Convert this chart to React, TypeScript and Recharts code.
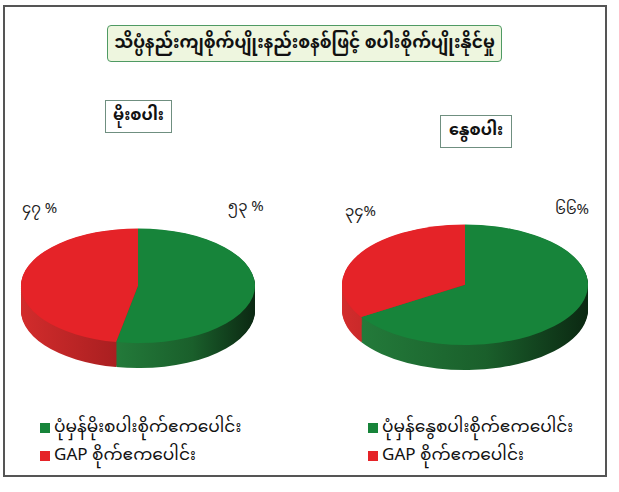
import React from 'react';
import { Cell, Pie, PieChart } from 'recharts';

const TITLE = 'သိပ္ပံနည်းကျစိုက်ပျိုးနည်းစနစ်ဖြင့် စပါးစိုက်ပျိုးနိုင်မှု';
const SEASONS = ['မိုးစပါး', 'နွေစပါး'];
const NORMAL_NAMES = ['ပုံမှန်မိုးစပါးစိုက်ဧကပေါင်း', 'ပုံမှန်နွေစပါးစိုက်ဧကပေါင်း'];
const GAP_NAME = 'GAP စိုက်ဧကပေါင်း';
const NORMAL_PCT = [53, 66];
const GAP_PCT = [47, 34];

const TOP_COLORS = ['#17843a', '#e52328'];
const SIDE_COLORS = ['url(#sideGreen)', 'url(#sideRed)'];
const MYANMAR_FONT = '"Noto Sans Myanmar", "Padauk", "Myanmar Text", "Liberation Serif", serif';

const toMyanmarDigits = (n: number) => String(n).replace(/[0-9]/g, (d) => String.fromCharCode(0x1040 + Number(d)));

interface Pie3DProps {
    normal: number;
    gap: number;
    left: number;
    top: number;
    radius: number;
}

function Pie3D({ normal, gap, left, top, radius }: Pie3DProps) {
    const data = [
        { name: 'normal', value: normal },
        { name: 'gap', value: gap },
    ];
    const layers = [];
    for (let off = 51; off > 0; off -= 2) layers.push(off);
    const cy = radius + 3;
    return (
        <div style={{ position: 'absolute', left, top, width: 260, height: 300, transform: 'scaleY(0.49)', transformOrigin: 'top left' }}>
            <PieChart width={260} height={300} margin={{ top: 0, right: 0, bottom: 0, left: 0 }}>
                {layers.map((off) => (
                    <Pie
                        key={off}
                        data={data}
                        dataKey="value"
                        cx={130}
                        cy={cy + off}
                        outerRadius={radius}
                        startAngle={90}
                        endAngle={-270}
                        stroke="none"
                        isAnimationActive={false}
                    >
                        {data.map((d, i) => (
                            <Cell key={d.name} fill={SIDE_COLORS[i]} />
                        ))}
                    </Pie>
                ))}
                <Pie
                    data={data}
                    dataKey="value"
                    cx={130}
                    cy={cy}
                    outerRadius={radius}
                    startAngle={90}
                    endAngle={-270}
                    stroke="none"
                    isAnimationActive={false}
                >
                    {data.map((d, i) => (
                        <Cell key={d.name} fill={TOP_COLORS[i]} />
                    ))}
                </Pie>
            </PieChart>
        </div>
    );
}

function LegendBlock({ x, y, normalName }: { x: number; y: number; normalName: string }) {
    const items = [
        { name: normalName, color: TOP_COLORS[0] },
        { name: GAP_NAME, color: TOP_COLORS[1] },
    ];
    return (
        <div style={{ position: 'absolute', left: x, top: y, fontFamily: MYANMAR_FONT, fontSize: 17, lineHeight: '20px', color: '#111' }}>
            {items.map((it) => (
                <div key={it.name} style={{ display: 'flex', alignItems: 'center', height: 28, whiteSpace: 'nowrap' }}>
                    <span style={{ width: 10, height: 10, background: it.color, marginRight: 4, display: 'inline-block' }} />
                    <span>{it.name}</span>
                </div>
            ))}
        </div>
    );
}

const label = (x: number, y: number, text: string) => (
    <div style={{ position: 'absolute', left: x, top: y, fontFamily: MYANMAR_FONT, fontSize: 15, lineHeight: '20px', color: '#222', whiteSpace: 'nowrap' }}>
        {text}
    </div>
);

export default function App() {
    return (
        <div style={{ position: 'absolute', left: 0, top: 0, width: 619, height: 492, background: '#fff', overflow: 'hidden' }}>
            <svg width={0} height={0} style={{ position: 'absolute' }}>
                <defs>
                    <linearGradient id="sideGreen" x1="0" y1="0" x2="1" y2="0">
                        <stop offset="0%" stopColor="#237a3a" />
                        <stop offset="55%" stopColor="#1a5f2b" />
                        <stop offset="100%" stopColor="#0b2812" />
                    </linearGradient>
                    <linearGradient id="sideRed" x1="0" y1="0" x2="1" y2="0">
                        <stop offset="0%" stopColor="#d22c2c" />
                        <stop offset="100%" stopColor="#a01c1e" />
                    </linearGradient>
                </defs>
            </svg>
            <div style={{ position: 'absolute', left: 3, top: 5, width: 604, height: 472, border: '2px solid #555', boxSizing: 'border-box' }} />
            <div
                style={{
                    position: 'absolute', left: 107, top: 25, width: 395, height: 37, boxSizing: 'border-box',
                    border: '1.5px solid #4f9a63', borderRadius: 4, background: '#eef6df',
                    display: 'flex', alignItems: 'center', justifyContent: 'center',
                    fontFamily: MYANMAR_FONT, fontSize: 17, fontWeight: 'bold', color: '#111', whiteSpace: 'nowrap',
                }}
            >
                {TITLE}
            </div>
            {[{ x: 105, y: 100, w: 67 }, { x: 440, y: 115, w: 72 }].map((b, i) => (
                <div
                    key={SEASONS[i]}
                    style={{
                        position: 'absolute', left: b.x, top: b.y, width: b.w, height: 33, boxSizing: 'border-box',
                        border: '1.5px solid #6f8f80', background: '#fff',
                        display: 'flex', alignItems: 'center', justifyContent: 'center',
                        fontFamily: MYANMAR_FONT, fontSize: 16, fontWeight: 'bold', color: '#111',
                    }}
                >
                    {SEASONS[i]}
                </div>
            ))}
            {label(22, 200, `${toMyanmarDigits(GAP_PCT[0])} %`)}
            {label(228, 198, `${toMyanmarDigits(NORMAL_PCT[0])} %`)}
            {label(345, 203, `${toMyanmarDigits(GAP_PCT[1])}%`)}
            {label(555, 201, `${toMyanmarDigits(NORMAL_PCT[1])}%`)}
            <Pie3D normal={NORMAL_PCT[0]} gap={GAP_PCT[0]} left={8} top={226.5} radius={117} />
            <Pie3D normal={NORMAL_PCT[1]} gap={GAP_PCT[1]} left={335} top={222.5} radius={123} />
            <LegendBlock x={40} y={414} normalName={NORMAL_NAMES[0]} />
            <LegendBlock x={368} y={414} normalName={NORMAL_NAMES[1]} />
        </div>
    );
}
